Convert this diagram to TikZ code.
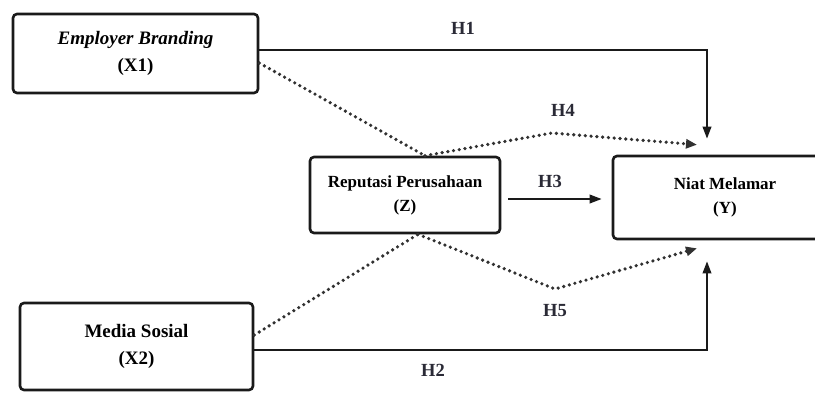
\documentclass[tikz,border=0pt]{standalone}
\usepackage{fontspec}
\setmainfont{Liberation Serif}
\usetikzlibrary{arrows.meta}
\definecolor{ink}{HTML}{1a1a1a}
\definecolor{lbl}{HTML}{2a2a36}
\tikzset{
  box/.style={draw=ink, line width=2.6pt, rounded corners=4pt, inner sep=0pt, align=center, fill=white},
  bigtext/.style={font=\fontsize{19}{27}\selectfont\bfseries},
  smalltext/.style={font=\fontsize{17}{24}\selectfont\bfseries},
  arr/.style={draw=ink, line width=2pt, -{Triangle[length=12pt,width=8.5pt]}},
  dots/.style={draw=ink!90, line width=3.6pt, line cap=round, dash pattern=on 0pt off 5.8pt},
  dotarr/.style={dots, -{Triangle[length=11pt,width=9pt,line cap=butt]}},
  hl/.style={font=\fontsize{18.5}{20}\selectfont\bfseries, text=lbl, inner sep=0pt}
}
\begin{document}
\begin{tikzpicture}[x=1pt,y=-1pt]
\useasboundingbox[fill=white] (0,0) rectangle (815,392);
\node[box, bigtext, minimum width=245pt, minimum height=79pt] (X1) at (135.5,53.5) {\textit{Employer Branding}\\(X1)};
\node[box, bigtext, minimum width=233pt, minimum height=87pt] (X2) at (136.5,346.5) {Media Sosial\\(X2)};
\node[box, smalltext, minimum width=190pt, minimum height=76pt] (Z) at (405,195) {Reputasi Perusahaan\\(Z)};
\node[box, smalltext, minimum width=224pt, minimum height=83pt] (Y) at (725,197.5) {Niat Melamar\\(Y)};

\coordinate (h4m) at (552,133);
\coordinate (h5m) at (555,289);

% H1
\draw[arr] ([yshift=3.5pt]X1.east) -| ([xshift=-18pt,yshift=16pt]Y.north);
% H2
\draw[arr] ([yshift=-3.5pt]X2.east) -| ([xshift=-18pt,yshift=-21pt]Y.south);
% H3
\draw[arr] ([xshift=7pt,yshift=-4pt]Z.east) -- ([xshift=-10pt,yshift=-1.5pt]Y.west);
% H4
\draw[dots] ([yshift=-9.5pt]X1.east) -- ([xshift=20pt]Z.north);
\draw[dotarr] ([xshift=20pt]Z.north) -- (h4m) -- ([xshift=-28pt,yshift=10pt]Y.north);
% H5
\draw[dots] ([yshift=11.5pt]X2.east) -- ([xshift=13pt]Z.south);
\draw[dotarr] ([xshift=13pt]Z.south) -- (h5m) -- ([xshift=-28pt,yshift=-8pt]Y.south);

\node[hl] (H1) at (463,28) {H1};
\node[hl] (H4) at (563,110) {H4};
\node[hl] (H3) at (550,181) {H3};
\node[hl] (H5) at (555,311) {H5};
\node[hl] (H2) at (433,370) {H2};
\end{tikzpicture}
\end{document}
